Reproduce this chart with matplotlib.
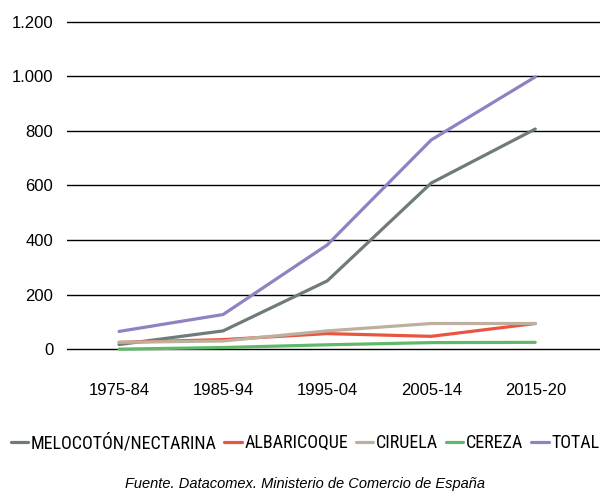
import matplotlib
matplotlib.use('Agg')
import matplotlib.pyplot as plt

periods = ['1975-84', '1985-94', '1995-04', '2005-14', '2015-20']
melocoton = [17, 67, 250, 609, 807]
albaricoque = [25, 35, 57, 47, 94]
ciruela = [25, 30, 67, 94, 94]
cereza = [0, 6, 16, 24, 25]
total = [65, 127, 382, 767, 998]

names = ['MELOCOTÓN/NECTARINA', 'ALBARICOQUE', 'CIRUELA', 'CEREZA', 'TOTAL']
colors = ['#6E7B79', '#E9553F', '#BEAF9E', '#62B869', '#9181C2']
yticks = [0, 200, 400, 600, 800, 1000, 1200]
ylabels = ['0', '200', '400', '600', '800', '1.000', '1.200']

plt.rcParams['font.family'] = ['Liberation Sans', 'DejaVu Sans']

fig = plt.figure(figsize=(6.04, 4.92), dpi=100)
ax = fig.add_axes([0.111, 0.287, 0.882, 0.672])

x = range(len(periods))
for vals, name, c in zip([melocoton, albaricoque, ciruela, cereza, total], names, colors):
    ax.plot(x, vals, color=c, lw=2.3, label=name, solid_capstyle='round', clip_on=False, zorder=3)

ax.set_xlim(-0.5, 4.62)
ax.set_ylim(-6, 1206)
ax.set_yticks(yticks)
ax.set_yticklabels(ylabels, fontsize=12, family='Liberation Sans')
ax.set_xticks(list(x))
ax.set_xticklabels(periods, fontsize=12, family='Liberation Sans')
ax.grid(axis='y', color='black', lw=1.0)
ax.set_axisbelow(True)
for s in ax.spines.values():
    s.set_visible(False)
ax.tick_params(length=0)
ax.tick_params(axis='y', pad=10)
ax.tick_params(axis='x', pad=23)

fig.legend(loc='center', bbox_to_anchor=(0.505, 0.1), ncol=5, frameon=False,
           handlelength=0.95, handletextpad=0.15, columnspacing=0.45,
           prop={'family': 'Roboto Condensed', 'size': 13})
fig.text(0.505, 0.016, 'Fuente. Datacomex. Ministerio de Comercio de España',
         ha='center', va='center', fontsize=10.5, style='italic', family='Liberation Sans')

fig.savefig('out.png', dpi=100)
